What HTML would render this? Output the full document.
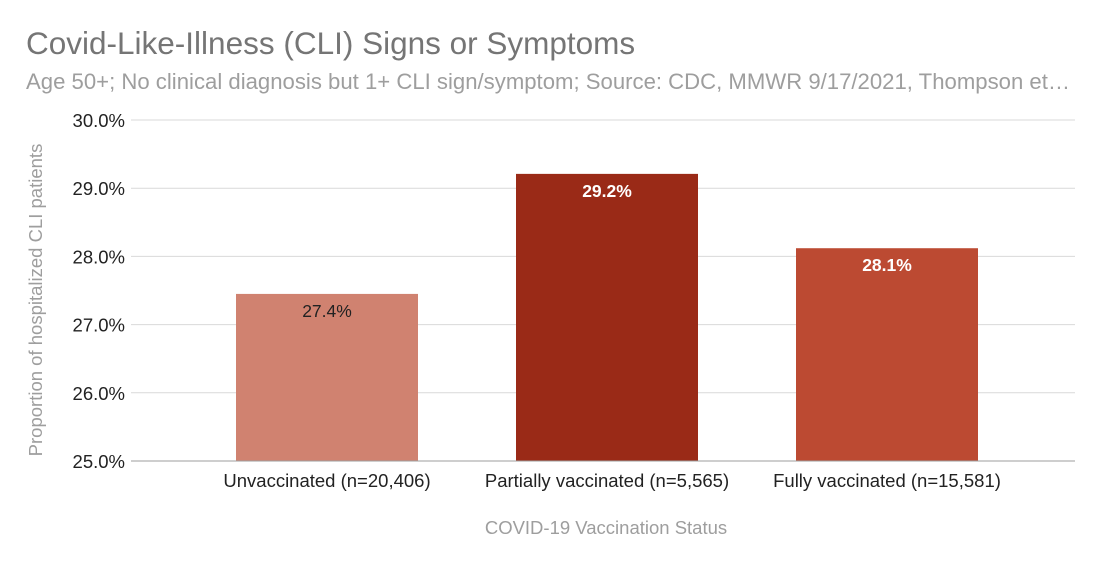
<!DOCTYPE html>
<html><head><meta charset="utf-8">
<style>
html,body{margin:0;padding:0;background:#fff;}
svg{display:block;font-family:"Liberation Sans",Arial,sans-serif;}
</style></head>
<body>
<svg id="chart" width="1100" height="564" viewBox="0 0 1100 564">
  <text x="26" y="54" font-size="31.5" fill="#757575">Covid-Like-Illness (CLI) Signs or Symptoms</text>
  <text x="26" y="89" font-size="22" fill="#9e9e9e" textLength="1044" lengthAdjust="spacingAndGlyphs">Age 50+; No clinical diagnosis but 1+ CLI sign/symptom; Source: CDC, MMWR 9/17/2021, Thompson et…</text>
  <text transform="translate(42,300) rotate(-90)" text-anchor="middle" font-size="18.5" fill="#9e9e9e">Proportion of hospitalized CLI patients</text>
  <text x="606" y="534" text-anchor="middle" font-size="18.5" fill="#9e9e9e">COVID-19 Vaccination Status</text>
  <g id="grid"></g>
  <g id="bars"></g>
</svg>
<script>
const categories = ["Unvaccinated (n=20,406)", "Partially vaccinated (n=5,565)", "Fully vaccinated (n=15,581)"];
const values = [27.45, 29.21, 28.12];
const valueLabels = ["27.4%", "29.2%", "28.1%"];
const barColors = ["#d08270", "#9a2a17", "#bc4a32"];
const labelColors = ["#222222", "#ffffff", "#ffffff"];
const ticks = [25, 26, 27, 28, 29, 30];
const tickLabels = ["25.0%", "26.0%", "27.0%", "28.0%", "29.0%", "30.0%"];

const NS = "http://www.w3.org/2000/svg";
const yMin = 25, yMax = 30, yTop = 120, yBot = 461;
function y(v){ return yBot - (v - yMin) / (yMax - yMin) * (yBot - yTop); }
const bandStart = 187, bandW = 280, barW = 182;
function xc(i){ return bandStart + bandW * (i + 0.5); }
function mk(tag, attrs, parent){ const e = document.createElementNS(NS, tag); for (const k in attrs) e.setAttribute(k, attrs[k]); parent.appendChild(e); return e; }

const grid = document.getElementById("grid");
ticks.forEach((t, i) => {
  const l = mk("line", {x1:131, x2:1075, y1:y(t), y2:y(t), stroke: i===0 ? "#9e9e9e" : "#d9d9d9", "stroke-width":1}, grid);
  
  
  const tx = mk("text", {x:125, y:y(t)+7, "text-anchor":"end", "font-size":18.5, fill:"#222"}, grid);
  tx.textContent = tickLabels[i];
  
  
});

const bars = document.getElementById("bars");
categories.forEach((c, i) => {
  const top = y(values[i]);
  const r = mk("rect", {x: xc(i) - barW/2, y: top, width: barW, height: yBot - top, fill: barColors[i]}, bars);
  
  
  const vl = mk("text", {x: xc(i), y: top + 23, "text-anchor":"middle", "font-size":17.5, fill: labelColors[i], "font-weight": i===0 ? "normal" : "bold"}, bars);
  vl.textContent = valueLabels[i];
  
  
  const cl = mk("text", {x: xc(i), y: 487, "text-anchor":"middle", "font-size":18.5, fill:"#222"}, bars);
  cl.textContent = c;
  
  
});
const base = mk("line", {x1:131, x2:1075, y1:yBot, y2:yBot, stroke:"#9e9e9e", "stroke-width":1}, bars);


</script>
</body></html>
